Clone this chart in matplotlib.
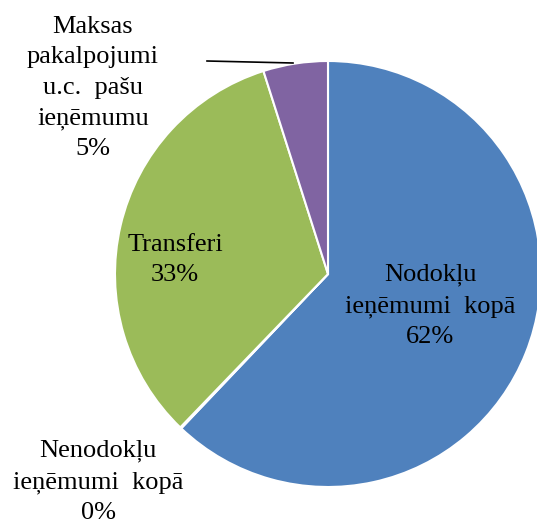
import matplotlib.pyplot as plt

# shares of income (percent)
labels = ['Nodokļu\nieņēmumi  kopā', 'Nenodokļu\nieņēmumi  kopā', 'Transferi',
          'Maksas\npakalpojumi\nu.c.  pašu\nieņēmumu']
values = [62.1, 0.1, 32.9, 4.9]
colors = ['#4F81BD', '#C0504D', '#9BBB59', '#8064A2']

W, H = 537, 524
fig = plt.figure(figsize=(W / 100, H / 100), dpi=100)
ax = fig.add_axes([0, 0, 1, 1])

cx, cy, r = 328, H - 274, 213
ax.pie(values, colors=colors, startangle=90, counterclock=False,
       center=(cx, cy), radius=r, frame=True,
       wedgeprops=dict(edgecolor='white', linewidth=1.5))
ax.set_xlim(0, W)
ax.set_ylim(0, H)
ax.set_aspect('equal')
ax.axis('off')

font = dict(family='Liberation Serif', fontsize=19, color='black',
            ha='center', va='center', linespacing=1.5)
total = sum(values)
pct = ['%d%%' % round(v / total * 100) for v in values]

# label positions in pixel coords (x, y from top)
pos = [(430, 306), (98, 482), (175, 260), (93, 88)]
for lab, p, (x, y) in zip(labels, pct, pos):
    ax.text(x, H - y, lab + '\n' + p, **font)

# leader line for the small slice
ax.plot([207, 293], [H - 61, H - 63], color='black', lw=1.2)

fig.savefig('out.png', dpi=100)
